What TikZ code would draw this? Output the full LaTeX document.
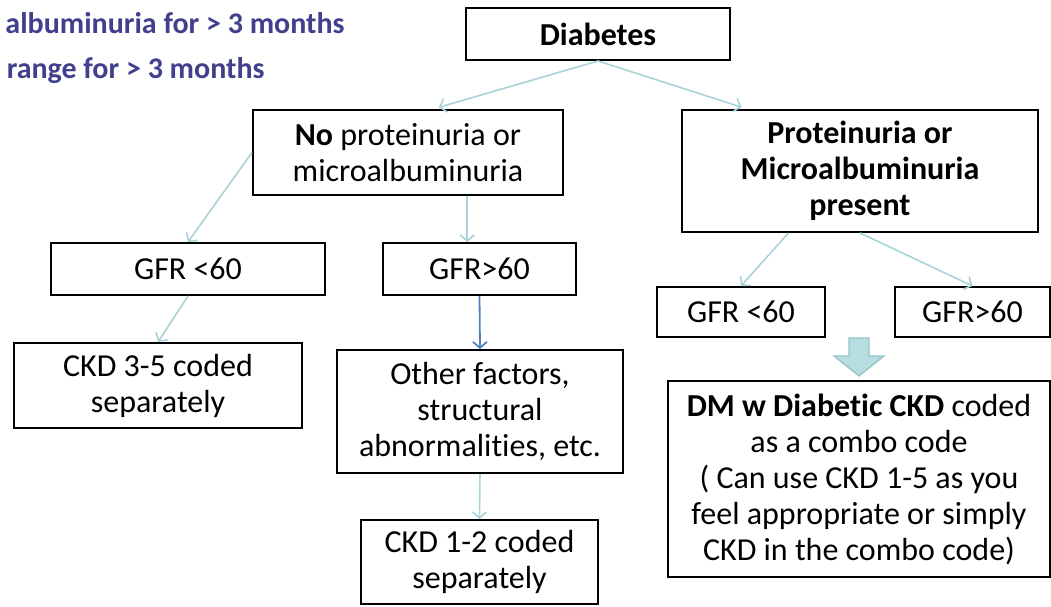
\documentclass[tikz,border=0pt]{standalone}
\usepackage{fontspec}
\setmainfont{Carlito}[Ligatures={NoCommon}]
\usetikzlibrary{arrows.meta,calc}
\definecolor{notecol}{RGB}{64,64,140}
\definecolor{linkcol}{RGB}{168,212,216}
\definecolor{mainlinkcol}{RGB}{79,129,189}
\definecolor{blockfill}{RGB}{183,221,224}
\definecolor{blockline}{RGB}{150,196,201}

\begin{document}
\begin{tikzpicture}[x=0.5pt, y=-0.5pt, >={Straight Barb[length=3pt,width=7pt]},
  font=\fontsize{16}{18}\selectfont,
  box/.style={draw, line width=1pt, align=center, inner sep=0pt},
  note/.style={font=\fontsize{15}{18}\selectfont\bfseries, text=notecol, anchor=base east, inner sep=0pt},
  link/.style={->, draw=linkcol, line width=0.8pt},
  mainlink/.style={->, draw=mainlinkcol, line width=0.9pt}]
  \useasboundingbox (0,0) rectangle (1051,606);

  \node[note] (note1) at (345,33) {albuminuria for > 3 months};
  \node[note] (note2) at (265,78) {range for > 3 months};

  \node[box, minimum width=132pt, minimum height=26pt] (dia) at (598,34)
    {\textbf{Diabetes}};
  \node[box, minimum width=155pt, minimum height=42.5pt] (nop) at (408,152.5)
    {\textbf{No} proteinuria or\\microalbuminuria};
  \node[box, minimum width=178pt, minimum height=61pt, font=\fontsize{16}{18}\selectfont\bfseries]
    (pp) at (860,171) {Proteinuria or\\Microalbuminuria\\present};

  \node[box, minimum width=137pt, minimum height=26pt] (gfrl) at (188,269) {GFR <60};
  \node[box, minimum width=96.5pt, minimum height=26pt] (gfrm) at (479.5,269) {GFR>60};
  \node[box, minimum width=84pt, minimum height=25pt] (gfrpl) at (741,312) {GFR <60};
  \node[box, minimum width=77.5pt, minimum height=25pt] (gfrpr) at (972.5,312) {GFR>60};

  \node[box, minimum width=144pt, minimum height=42.5pt] (ckdA) at (158,385.5)
    {CKD 3-5 coded\\separately};
  \node[box, minimum width=143pt, minimum height=61.5pt] (oth) at (480,411.5)
    {Other factors,\\structural\\abnormalities, etc.};
  \node[box, minimum width=118.5pt, minimum height=42pt] (ckdB) at (479.5,562)
    {CKD 1-2 coded\\separately};
  \node[box, minimum width=191pt, minimum height=98pt] (dm) at (859,479)
    {\textbf{DM w Diabetic CKD} coded\\as a combo code\\( Can use CKD 1-5 as you\\feel appropriate or simply\\CKD in the combo code)};

  \coordinate (nopout) at ($(nop.south west)!0.69!(nop.south east)$);
  \coordinate (ppout) at ($(pp.south west)!0.30!(pp.south east)$);

  \draw[link, shorten >=3pt] (dia.south) -- ($(nop.north west)!0.58!(nop.north east)$);
  \draw[link, shorten >=3pt] (dia.south) -- ($(pp.north west)!0.185!(pp.north east)$);
  \draw[link] (nop.west) -- (gfrl.north);
  \draw[link] (nopout) -- (nopout |- gfrm.north);
  \draw[link] (gfrl.south) -- (ckdA.north);
  \draw[mainlink] (gfrm.south) -- (oth.north);
  \draw[link] (oth.south) -- (ckdB.north);
  \draw[link] (ppout) -- (gfrpl.north);
  \draw[link] (pp.south) -- (gfrpr.north);

  \filldraw[fill=blockfill, draw=blockline, line width=0.6pt]
    ($(dm.north)+(-10,-42)$) -- ++(20,0) -- ++(0,18) -- ++(15,0)
    -- ($(dm.north)+(0,-4)$) -- ($(dm.north)+(-25,-24)$) -- ++(15,0) -- cycle;
\end{tikzpicture}
\end{document}
